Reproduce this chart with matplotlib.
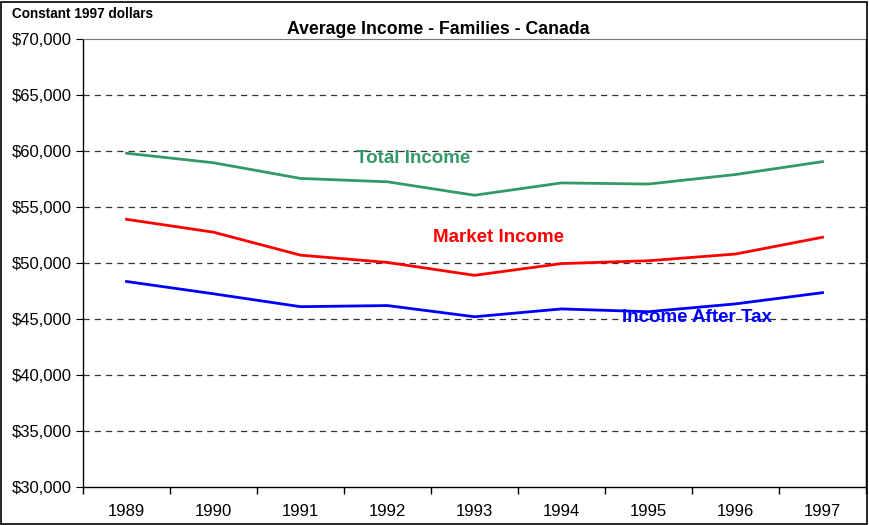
import matplotlib
matplotlib.use("Agg")
import matplotlib.pyplot as plt
from matplotlib.ticker import FuncFormatter, FixedLocator
from matplotlib.patches import Rectangle

years = ["1989", "1990", "1991", "1992", "1993", "1994", "1995", "1996", "1997"]
total_income = [59800, 58950, 57550, 57250, 56050, 57150, 57050, 57900, 59050]
market_income = [53900, 52750, 50700, 50050, 48900, 49950, 50200, 50800, 52300]
after_tax = [48350, 47250, 46100, 46200, 45200, 45900, 45650, 46350, 47350]

plt.rcParams['font.family'] = ['Liberation Sans', 'DejaVu Sans']

fig = plt.figure(figsize=(8.69, 5.25), dpi=100)
W, H = 869, 525
ax = fig.add_axes([83 / W, (H - 487) / H, (866 - 83) / W, (487 - 39) / H])

x = list(range(len(years)))
ax.plot(x, total_income, color="#339966", lw=2.0)
ax.plot(x, market_income, color="#ff0000", lw=2.0)
ax.plot(x, after_tax, color="#0000ff", lw=2.0)

ax.set_xlim(-0.5, len(years) - 0.5)
ax.set_ylim(30000, 70000)
ax.set_yticks(range(30000, 70001, 5000))
ax.yaxis.set_major_formatter(FuncFormatter(lambda v, p: "${:,.0f}".format(v)))
ax.set_xticks(x)
ax.set_xticklabels(years)
ax.xaxis.set_minor_locator(FixedLocator([i - 0.5 for i in range(len(years) + 1)]))
ax.tick_params(axis="x", which="major", length=0, pad=12, labelsize=12)
ax.tick_params(axis="x", which="minor", length=5, direction="out", width=1)
ax.tick_params(axis="y", length=5, direction="out", labelsize=12, pad=3)

for v in range(35000, 70000, 5000):
    ax.axhline(v, color="#333333", lw=0.9, ls=(0, (5, 4)), zorder=0)

for s in ["left", "bottom"]:
    ax.spines[s].set_color("black")
    ax.spines[s].set_linewidth(1.0)
ax.spines["top"].set_color("#777777")
ax.spines["top"].set_linewidth(0.8)
ax.spines["right"].set_color("black")
ax.spines["right"].set_linewidth(1.0)

ax.text(3.29, 59350, "Total Income", color="#339966", fontsize=13.5,
        fontweight="bold", ha="center", va="center")
ax.text(4.28, 52300, "Market Income", color="#ff0000", fontsize=13.5,
        fontweight="bold", ha="center", va="center")
ax.text(6.56, 45100, "Income After Tax", color="#0000ff", fontsize=13.5,
        fontweight="bold", ha="center", va="center")

fig.text(438 / W, 1 - 29 / H, "Average Income - Families - Canada", fontsize=12.7,
         fontweight="bold", ha="center", va="center")
fig.text(12 / W, 1 - 14 / H, "Constant 1997 dollars", fontsize=9.8,
         fontweight="bold", ha="left", va="center")

fig.patches.append(Rectangle((1 / W, 1 / H), (W - 3) / W, (H - 3) / H, transform=fig.transFigure,
                             fill=False, edgecolor="black", lw=1.2))

fig.savefig("out.png", dpi=100)
